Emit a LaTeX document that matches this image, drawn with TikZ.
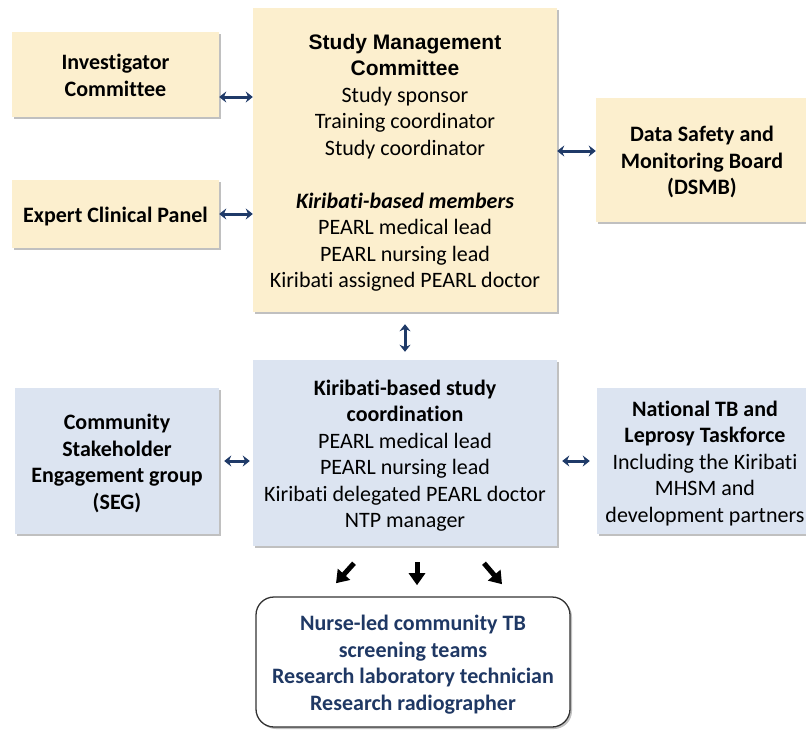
\documentclass[tikz,border=0pt]{standalone}
\usepackage{fontspec}
\setmainfont{Carlito}[Ligatures=NoCommon]
\newfontfamily\arialf{Liberation Sans}
\usetikzlibrary{shadows,arrows.meta,calc}
\definecolor{ylw}{HTML}{FCEFCE}
\definecolor{blu}{HTML}{DCE4F1}
\definecolor{navy}{HTML}{1F3864}
\definecolor{arr}{HTML}{1F3A68}
\newcommand{\boxtext}[1]{\raisebox{-3pt}[\height][\depth]{\begin{tabular}{@{}c@{}}#1\end{tabular}}}
\tikzset{
  box/.style={draw=none, align=center, inner sep=0pt, font=\fontsize{22}{26.5}\selectfont,
    drop shadow={shadow xshift=2pt, shadow yshift=-2pt, opacity=0.35, fill=black!70}},
  ybox/.style={box, fill=ylw},
  bbox/.style={box, fill=blu},
  dbl/.style={draw=arr, line width=3pt, {Stealth[length=7pt,width=11pt]}-{Stealth[length=7pt,width=11pt]}},
  blk/.style={draw=black, line width=5pt, -{Triangle[length=12pt,width=16pt]}},
}
\begin{document}
\begin{tikzpicture}[x=1pt,y=-1pt]
\path[use as bounding box] (0,0) rectangle (806,729);
\fill[white] (0,0) rectangle (806,729);
\node[ybox, minimum width=207pt, minimum height=85pt] (inv) at (115.5,74.5) {\boxtext{\bfseries Investigator\\\bfseries Committee}};
\node[ybox, minimum width=207pt, minimum height=68pt] (exp) at (115.5,214) {\boxtext{\bfseries Expert Clinical Panel}};
\node[ybox, minimum width=304pt, minimum height=304pt] (smc) at (405,160) {\boxtext{{\arialf\bfseries\fontsize{21}{26.5}\selectfont Study Management}\\{\arialf\bfseries\fontsize{21}{26.5}\selectfont Committee}\\Study sponsor\\Training coordinator\\Study coordinator\\[26.5pt]\textbf{\textit{Kiribati-based members}}\\PEARL medical lead\\PEARL nursing lead\\Kiribati assigned PEARL doctor}};
\node[ybox, minimum width=212pt, minimum height=124pt] (dsmb) at (702,160) {\boxtext{\bfseries Data Safety and\\\bfseries Monitoring Board\\\bfseries (DSMB)}};
\node[bbox, minimum width=304pt, minimum height=186pt] (kir) at (405,453) {\boxtext{\bfseries Kiribati-based study\\\bfseries coordination\\PEARL medical lead\\PEARL nursing lead\\Kiribati delegated PEARL doctor\\NTP manager}};
\node[bbox, minimum width=204pt, minimum height=146pt] (seg) at (117,461) {\boxtext{\bfseries Community\\\bfseries Stakeholder\\\bfseries Engagement group\\\bfseries (SEG)}};
\node[bbox, minimum width=216pt, minimum height=146pt] (ntb) at (705,461) {\boxtext{\bfseries National TB and\\\bfseries Leprosy Taskforce\\Including the Kiribati\\MHSM and\\development partners}};
\node[box, fill=white, draw=black!80, line width=1.3pt, rounded corners=18pt, minimum width=314pt, minimum height=130pt, text=navy, font=\fontsize{22}{26.5}\selectfont\bfseries] (team) at (413,662) {\boxtext{Nurse-led community TB\\screening teams\\Research laboratory technician\\Research radiographer}};
\draw[dbl] (inv.east |- 0,97) -- (smc.west |- 0,97);
\draw[dbl] (exp.east) -- (exp.east -| smc.west);
\draw[dbl] (smc.east |- 0,151) -- (dsmb.west |- 0,151);
\draw[dbl, shorten <=12pt, shorten >=8pt] (smc.south) -- (kir.north);
\draw[dbl, shorten <=5pt, shorten >=3pt] (seg.east) -- (seg.east -| kir.west);
\draw[dbl, shorten <=5pt, shorten >=7pt] (kir.east |- 0,461) -- (ntb.west |- 0,461);
\draw[blk] ($(kir.south)+(-51,17)$) -- ($(kir.south)+(-69,37)$);
\draw[blk] ($(kir.south)+(12,16)$) -- ($(kir.south)+(12,39)$);
\draw[blk] ($(kir.south)+(79,17)$) -- ($(kir.south)+(97,38)$);
\end{tikzpicture}
\end{document}
